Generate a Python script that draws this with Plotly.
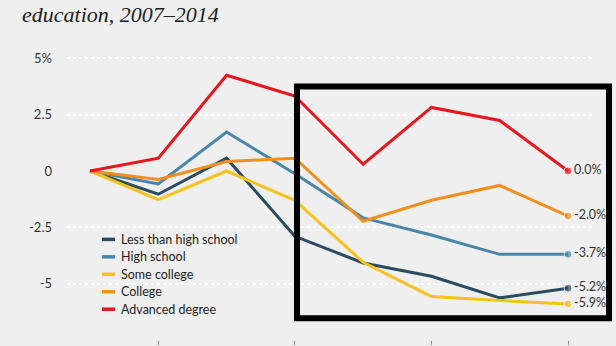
import plotly.graph_objects as go

# Percentage change by education level, 2007-2014
years = [2007, 2008, 2009, 2010, 2011, 2012, 2013, 2014]

series_names = ["Less than high school", "High school", "Some college", "College", "Advanced degree"]
less_than_high_school = [0, -1.03, 0.57, -2.9, -4.08, -4.67, -5.63, -5.2]
high_school = [0, -0.57, 1.73, -0.12, -2.08, -2.84, -3.7, -3.7]
some_college = [0, -1.27, 0.0, -1.3, -4.05, -5.57, -5.75, -5.9]
college = [0, -0.38, 0.42, 0.57, -2.23, -1.3, -0.64, -2.0]
advanced_degree = [0, 0.57, 4.25, 3.33, 0.3, 2.82, 2.24, 0.0]
series_values = [less_than_high_school, high_school, some_college, college, advanced_degree]
colors = ["#2c4b5f", "#4b86a6", "#f6c21c", "#f28f1f", "#e8161d"]

y_tickvals = [5, 2.5, 0, -2.5, -5, -7.5]
y_ticktext = ["5%", "2.5", "0", "-2.5", "-5", "-7.5"]
x_tickvals = [2008, 2010, 2012, 2014]

title_text = "education, 2007\u20132014"

BG = "#efefef"
SANS = "Lato, Roboto, sans-serif"

W, H = 616, 346
ML, MR, MT, MB = 67, 24, 50, 2
PW, PH = W - ML - MR, H - MT - MB


def px(x):
    """Pixel column -> paper x."""
    return (x - ML) / PW


def py(y):
    """Pixel row -> paper y."""
    return (H - MB - y) / PH


fig = go.Figure()

for name, vals, col in zip(series_names, series_values, colors):
    n = len(vals)
    marker_sizes = [0] * (n - 1) + [8]
    texts = [""] * (n - 1) + [f"{vals[-1]:.1f}%"]
    fig.add_trace(go.Scatter(
        x=years, y=vals, name=name,
        mode="lines+markers+text",
        line=dict(color=col, width=3),
        marker=dict(size=marker_sizes, color=col),
        text=texts, textposition="middle right",
        textfont=dict(family=SANS, size=12.5, color="#333333"),
        showlegend=False, cliponaxis=False,
    ))

# Legend block: short colour swatches with series names
legend_top = 242
legend_step = 17.7
for i, (name, col) in enumerate(zip(series_names, colors)):
    yc = legend_top + i * legend_step
    fig.add_shape(type="line", xref="paper", yref="paper",
                  x0=px(102), x1=px(115), y0=py(yc), y1=py(yc),
                  line=dict(color=col, width=3.5), layer="above")
    fig.add_annotation(text=name, xref="paper", yref="paper",
                       x=px(119), y=py(yc), xanchor="left", yanchor="middle",
                       showarrow=False,
                       font=dict(family=SANS, size=12.5, color="#222222"))

# Dashed zero reference line
fig.add_shape(type="line", xref="paper", yref="y", x0=0, x1=1, y0=0, y1=0,
              line=dict(color="#999999", width=1, dash="dash"), layer="between")

# Highlight frame around 2010-2014
fig.add_shape(type="rect", xref="paper", yref="paper",
              x0=px(297), x1=px(609), y0=py(322), y1=py(87),
              line=dict(color="black", width=6), fillcolor="rgba(0,0,0,0)", layer="above")

fig.update_layout(
    width=W, height=H,
    margin=dict(l=ML, r=MR, t=MT, b=MB),
    paper_bgcolor=BG, plot_bgcolor=BG,
    showlegend=False,
    title=dict(text=title_text, xref="container", yref="container",
               x=22 / W, xanchor="left", y=1 - 14 / H, yanchor="middle",
               font=dict(family="Georgia, Liberation Serif, serif", size=22,
                         color="#222222", style="italic")),
)
fig.update_xaxes(range=[2006.663, 2014.351], showgrid=False, zeroline=False,
                 tickvals=x_tickvals, ticks="outside", ticklen=4, tickcolor="#888888",
                 showticklabels=False, showline=False)
fig.update_yaxes(range=[-7.5, 5.37], tickvals=y_tickvals, ticktext=y_ticktext,
                 showgrid=True, gridcolor="white", gridwidth=2, griddash="dot",
                 zeroline=True, zerolinecolor=BG, zerolinewidth=3,
                 ticks="", ticklabelstandoff=14,
                 tickfont=dict(family=SANS, size=13, color="#333333"))

fig.write_html("out.html")
